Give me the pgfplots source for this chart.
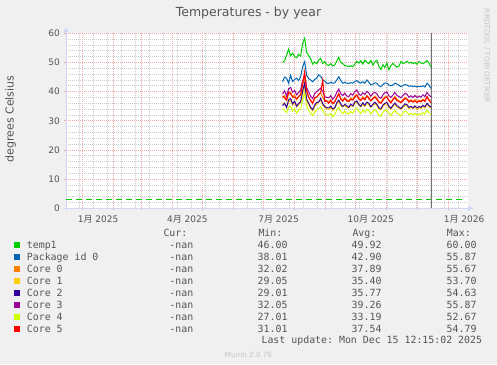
\documentclass[border=0pt]{standalone}
\usepackage{pgfplots}
\pgfplotsset{compat=1.18}
\usepackage{pgfplotstable}
\usepackage{fontspec}
\setmainfont{DejaVu Sans}
\setmonofont{DejaVu Sans Mono}
\newfontfamily\cjk{Noto Sans CJK SC}
\usetikzlibrary{arrows.meta}

\definecolor{bg}{HTML}{F0F0F0}
\definecolor{txt}{HTML}{555555}
\definecolor{axisc}{HTML}{CFD6F8}
\definecolor{mgrid}{HTML}{F2A6A6}
\definecolor{mingrid}{HTML}{CCCCCC}
\definecolor{wmark}{HTML}{C4C4C4}
\definecolor{cT}{HTML}{00CC00}
\definecolor{cP}{HTML}{0066B3}
\definecolor{cA}{HTML}{FF8000}
\definecolor{cB}{HTML}{FFCC00}
\definecolor{cC}{HTML}{330099}
\definecolor{cD}{HTML}{990099}
\definecolor{cE}{HTML}{CCFF00}
\definecolor{cF}{HTML}{FF0000}

\pgfplotstableread{
d t1 pkg c3 c0 c5 c2 c1 c4
200 50.0 43.4 39.2 37.9 38.6 35.2 36.4 34.1
202 50.6 45.0 40.3 38.6 37.8 36.0 35.7 33.6
204 52.5 44.6 38.4 37.0 37.1 34.6 34.9 32.8
206 54.6 42.9 41.0 39.3 39.8 37.2 36.3 34.7
208 52.3 45.6 41.4 39.8 39.2 37.6 37.1 35.0
210 53.2 43.5 39.8 38.0 38.3 35.8 35.4 33.3
212 52.0 44.2 40.4 38.9 38.0 36.7 36.2 34.2
214 51.6 44.6 38.9 37.2 37.6 35.0 34.8 32.6
216 52.8 43.8 39.7 38.4 38.3 36.0 35.5 33.8
218 52.2 45.1 40.5 38.7 39.1 36.5 36.4 34.0
220 56.5 48.5 43.8 42.3 42.8 40.2 39.5 37.4
222 58.3 50.3 45.7 45.1 46.8 42.9 42.0 39.6
224 53.4 45.6 41.3 39.9 40.4 37.2 36.9 35.2
226 52.4 44.5 39.9 38.2 38.0 36.1 35.6 33.5
228 51.2 44.0 38.5 36.8 37.1 34.6 34.2 32.6
230 49.4 43.4 37.6 36.1 35.9 33.8 33.4 31.8
232 50.2 44.2 39.4 37.5 37.9 35.4 35.0 33.0
234 49.6 44.6 40.0 38.3 38.2 36.3 35.7 33.9
236 50.8 45.8 40.6 38.9 39.0 36.4 36.6 34.1
238 51.4 45.2 41.2 39.6 39.8 37.7 37.0 34.8
240 49.7 44.0 40.1 38.0 44.0 35.9 35.4 33.6
242 50.3 43.6 38.3 37.1 36.6 34.9 34.6 32.4
244 49.2 42.9 38.0 36.9 36.8 34.5 34.1 32.1
246 49.0 42.8 37.9 36.4 36.0 34.4 33.9 31.9
248 49.6 43.2 38.6 37.3 36.9 35.0 34.6 32.5
250 48.8 42.9 37.4 36.1 35.8 34.1 33.5 31.4
252 49.2 43.0 38.2 36.6 36.5 34.5 34.3 32.2
254 50.4 44.0 39.7 38.1 37.8 36.2 35.6 33.7
256 51.8 45.1 40.9 39.4 39.2 37.1 36.8 34.6
258 50.0 43.8 39.3 37.7 37.4 35.8 35.2 33.1
260 49.6 42.9 38.6 37.2 36.7 34.9 34.7 32.4
262 49.0 43.2 39.5 37.8 37.7 35.6 35.3 33.4
264 48.8 42.9 38.5 37.3 36.8 35.2 34.6 32.6
266 48.6 42.8 38.3 36.7 36.6 34.6 34.4 32.3
268 48.9 43.1 39.3 37.9 37.4 35.7 35.2 33.2
270 48.5 42.9 38.8 37.2 37.1 35.1 34.9 32.6
272 49.4 43.4 40.0 38.6 38.1 36.5 35.9 33.9
274 50.4 43.8 40.6 39.0 38.8 36.8 36.6 34.3
276 49.8 43.2 39.1 37.9 37.4 35.6 35.4 33.3
278 50.6 42.9 38.7 37.1 37.0 35.0 34.7 32.5
280 49.4 43.4 39.6 38.3 37.8 36.2 35.6 33.7
282 50.8 42.9 39.0 37.3 37.2 35.3 34.9 32.8
284 50.1 44.0 40.1 38.7 38.5 36.4 36.2 34.0
286 49.6 43.2 39.5 38.1 37.6 36.0 35.4 33.5
288 50.7 42.3 38.4 37.0 36.8 34.8 34.6 32.3
290 49.1 42.6 39.4 37.7 37.6 35.6 35.3 33.3
292 50.2 43.0 39.7 38.5 38.1 36.4 35.8 33.9
294 50.8 42.9 39.3 37.9 37.3 35.7 35.2 33.1
296 48.6 42.0 38.1 36.7 36.3 34.5 34.0 31.9
298 47.6 41.7 37.7 36.2 36.0 34.1 33.8 31.5
300 49.2 42.4 38.9 37.5 37.0 35.4 34.9 32.9
302 48.3 42.9 39.6 38.2 37.9 36.0 35.6 33.5
304 49.8 42.9 39.9 38.3 38.2 36.3 35.9 33.8
306 47.5 42.3 38.6 37.1 36.9 35.0 34.5 32.5
308 48.9 42.0 38.0 36.6 36.1 34.3 34.0 31.8
310 49.7 42.3 38.8 37.4 37.2 35.3 34.9 32.9
312 49.0 42.9 39.7 38.4 37.9 36.1 35.7 33.6
314 48.4 42.6 38.7 37.4 36.9 35.2 34.8 32.6
316 48.7 42.2 38.3 36.9 36.6 34.7 34.3 32.3
318 50.3 41.7 37.9 36.4 36.2 34.2 33.9 31.7
320 49.6 42.1 38.7 37.3 36.9 35.0 34.6 32.6
322 49.9 42.4 39.4 38.0 37.6 35.8 35.3 33.3
324 50.4 42.3 39.1 37.6 37.4 35.5 35.1 33.0
326 49.8 41.8 38.1 36.8 36.4 34.6 34.1 32.1
328 50.1 42.0 38.6 37.2 36.9 35.0 34.6 32.5
330 49.6 41.7 38.0 36.7 36.4 34.4 34.2 32.0
332 50.0 41.9 38.7 37.3 36.8 35.1 34.7 32.6
334 49.4 41.6 37.9 36.5 36.3 34.4 33.9 31.9
336 50.3 41.8 38.5 37.1 36.7 34.9 34.5 32.4
338 49.8 41.7 38.1 36.8 36.5 34.6 34.2 32.1
340 49.6 42.0 38.9 37.4 37.1 35.3 34.9 32.8
342 50.0 41.6 38.3 37.0 36.6 34.8 34.4 32.3
344 50.6 42.9 39.7 38.2 38.3 36.0 35.7 33.7
346 49.8 42.2 38.8 37.3 37.0 35.2 34.8 32.7
348 48.4 41.1 38.2 36.6 36.2 34.7 34.3 32.2
}\temps

\newcommand{\legrow}[6]{%
  \fill[#2] (14,{364-#1+0.5}) rectangle (20,{364-#1+6.5});
  \node[anchor=base west,inner sep=0pt] at (26.7,{364-#1}) {#3};
  \node[anchor=base east,inner sep=0pt] at (193.5,{364-#1}) {-nan};
  \node[anchor=base east,inner sep=0pt] at (287.7,{364-#1}) {#4};
  \node[anchor=base east,inner sep=0pt] at (381.7,{364-#1}) {#5};
  \node[anchor=base east,inner sep=0pt] at (476.7,{364-#1}) {#6};
}

\begin{document}
\begin{tikzpicture}[x=1pt,y=1pt]
\fill[bg] (0,0) rectangle (497,364);
\useasboundingbox (0,0) rectangle (497,364);

\begin{axis}[
  at={(66pt,155.7pt)}, anchor=south west,
  scale only axis, width=402pt, height=175pt,
  xmin=-16, xmax=384.9, ymin=0, ymax=60,
  axis background/.style={fill=white},
  axis lines*=left,
  axis line style={axisc, line width=1pt},
  x axis line style={-{Triangle[length=5pt,width=5pt]}, shorten >=-5pt, shorten <=-3pt},
  y axis line style={-{Triangle[length=5pt,width=5pt]}, shorten >=-6pt, shorten <=-3pt},
  xtick={-31,0,31,59,90,120,151,181,212,243,273,304,334,365},
  xticklabels={},
  minor xtick={-3,11,...,375},
  extra x ticks={16,105,196,288,381},
  extra x tick labels={1{\cjk 月} 2025,4{\cjk 月} 2025,7{\cjk 月} 2025,10{\cjk 月} 2025,1{\cjk 月} 2026},
  extra x tick style={grid=none, major tick length=0pt,
     xticklabel style={anchor=base, yshift=-13.7pt}},
  ytick={0,10,20,30,40,50,60},
  minor ytick={2,4,...,58},
  grid=both,
  major grid style={mgrid, line width=0.8pt, dash pattern=on 1pt off 1pt},
  minor grid style={mingrid, line width=0.8pt, dash pattern=on 1pt off 1pt},
  tick align=outside,
  major tick length=2pt, minor tick length=0pt,
  tick style={mgrid, line width=0.8pt},
  ticklabel style={font=\fontsize{9}{10}\selectfont, text=txt},
  yticklabel style={inner sep=0pt, anchor=east, xshift=-4pt},
  /pgf/number format/assume math mode=true,
  clip=true,
]
\addplot[cT, line width=1pt, dash pattern=on 6pt off 4pt] coordinates {(-16,3.1) (379,3.1)};
\addplot[black!55, line width=1pt] coordinates {(348,0) (348,60)};
\addplot[cT, line width=1pt] table[x=d,y=t1] {\temps};
\addplot[cP, line width=1pt] table[x=d,y=pkg] {\temps};
\addplot[cA, line width=1pt] table[x=d,y=c0] {\temps};
\addplot[cB, line width=1pt] table[x=d,y=c1] {\temps};
\addplot[cC, line width=1pt] table[x=d,y=c2] {\temps};
\addplot[cD, line width=1pt] table[x=d,y=c3] {\temps};
\addplot[cE, line width=1pt] table[x=d,y=c4] {\temps};
\addplot[cF, line width=1pt] table[x=d,y=c5] {\temps};
\end{axis}

\node[text=txt, font=\fontsize{12.5}{14}\selectfont, anchor=base] at (248.5,347) {Temperatures - by year};
\node[text=txt, font=\fontsize{11}{12}\selectfont, rotate=90] at (10.5,245) {degrees Celsius};
\node[text=wmark, font=\fontsize{7.3}{8}\selectfont, rotate=-90] at (487,308) {RRDTOOL / TOBI OETIKER};

\begin{scope}[font=\ttfamily\fontsize{9.9}{11}\selectfont, text=txt]
\node[anchor=base west,inner sep=0pt] at (163.3,127.5) {Cur:};
\node[anchor=base west,inner sep=0pt] at (258.3,127.5) {Min:};
\node[anchor=base west,inner sep=0pt] at (352.3,127.5) {Avg:};
\node[anchor=base west,inner sep=0pt] at (446.7,127.5) {Max:};
\legrow{248.5}{cT}{temp1}{46.00}{49.92}{60.00}
\legrow{260.5}{cP}{Package id 0}{38.01}{42.90}{55.87}
\legrow{272.5}{cA}{Core 0}{32.02}{37.89}{55.67}
\legrow{284.5}{cB}{Core 1}{29.05}{35.40}{53.70}
\legrow{296.5}{cC}{Core 2}{29.01}{35.77}{54.63}
\legrow{308.5}{cD}{Core 3}{32.05}{39.26}{55.87}
\legrow{320.5}{cE}{Core 4}{27.01}{33.19}{52.67}
\legrow{332.5}{cF}{Core 5}{31.01}{37.54}{54.79}
\node[anchor=base east,inner sep=0pt] at (482.3,20.5) {Last update: Mon Dec 15 12:15:02 2025};
\end{scope}
\node[text=wmark, font=\fontsize{7.2}{8}\selectfont, anchor=base] at (248.5,7) {Munin 2.0.76};
\end{tikzpicture}
\end{document}
